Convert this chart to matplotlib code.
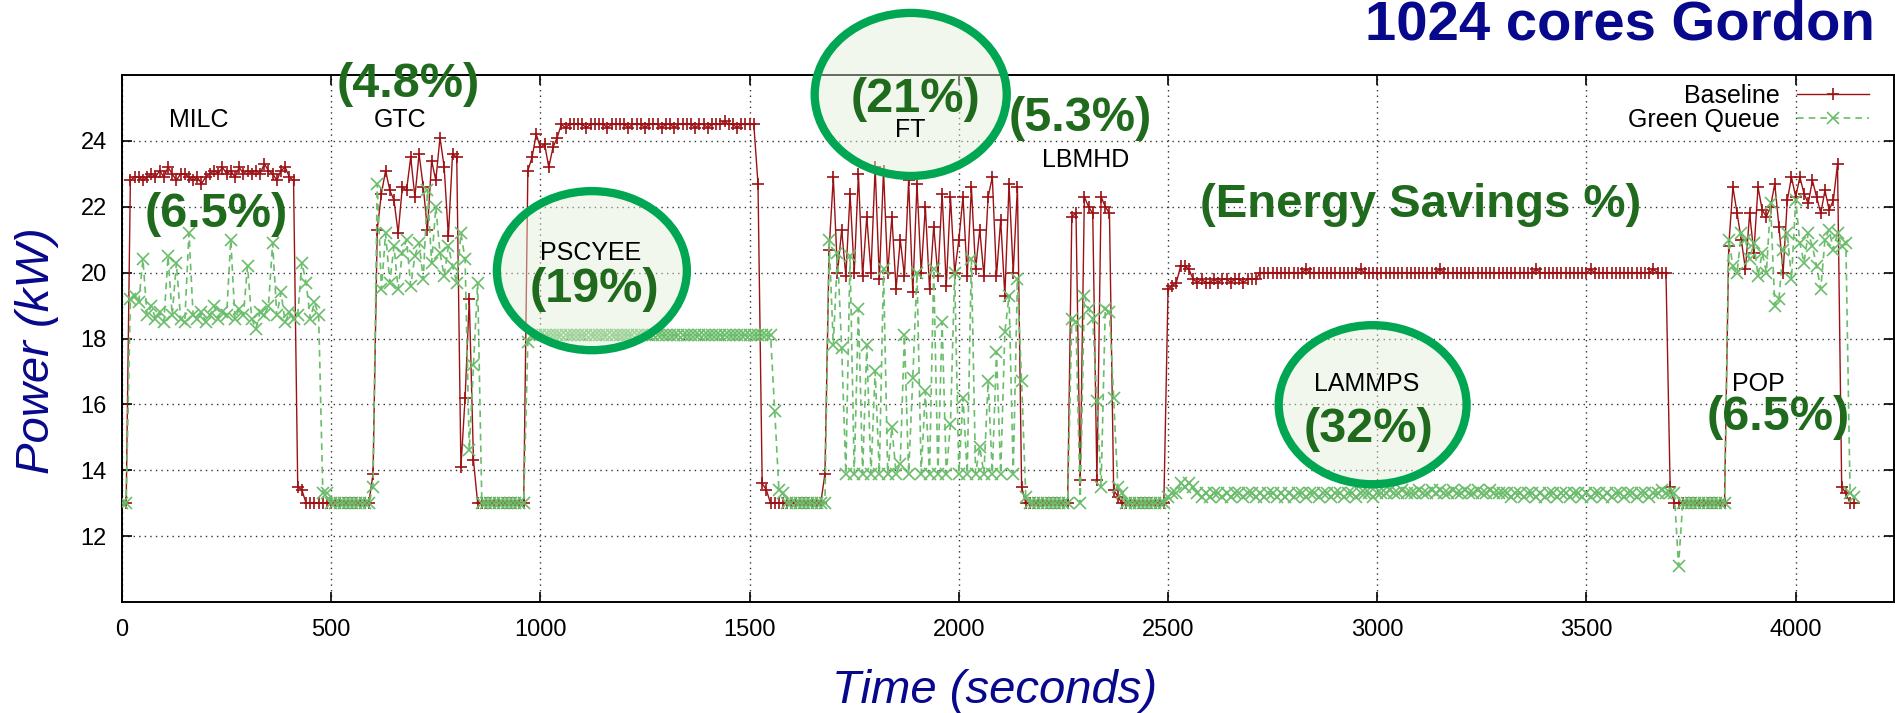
import numpy as np
import matplotlib
matplotlib.use("Agg")
import matplotlib.pyplot as plt
from matplotlib.patches import Ellipse
from matplotlib.lines import Line2D

plt.rcParams['font.family'] = ['Liberation Sans', 'DejaVu Sans']

# Sample times (s), one power reading every 10 s
time_s = np.arange(0, 4150, 10)

# Baseline power (kW), one row per 100 s
baseline_kw = [
    13.0, 13.0, 22.8, 22.9, 22.9, 22.8, 22.9, 23.0, 22.9, 23.1,   # 0
    22.9, 23.2, 23.0, 22.8, 23.0, 23.0, 22.9, 22.8, 22.9, 22.7,   # 100
    22.9, 23.0, 23.1, 23.0, 23.2, 23.0, 23.1, 22.9, 23.2, 23.0,   # 200
    23.1, 23.0, 23.1, 23.0, 23.3, 23.1, 23.0, 22.8, 23.1, 23.2,   # 300
    22.9, 22.8, 13.5, 13.4, 13.0, 13.0, 13.0, 13.0, 13.0, 13.0,   # 400
    13.0, 13.0, 13.0, 13.0, 13.0, 13.0, 13.0, 13.0, 13.0, 13.0,   # 500
    13.9, 21.3, 22.4, 23.1, 22.5, 22.2, 21.2, 22.6, 22.5, 23.5,   # 600
    22.3, 23.6, 22.6, 21.3, 23.4, 22.8, 24.1, 23.2, 21.1, 23.6,   # 700
    23.5, 14.1, 16.2, 19.2, 14.3, 13.0, 13.0, 13.0, 13.0, 13.0,   # 800
    13.0, 13.0, 13.0, 13.0, 13.0, 13.0, 13.0, 23.1, 23.5, 24.2,   # 900
    23.8, 23.9, 23.2, 23.8, 24.1, 24.5, 24.4, 24.5, 24.5, 24.5,   # 1000
    24.5, 24.4, 24.5, 24.5, 24.5, 24.5, 24.4, 24.5, 24.5, 24.5,   # 1100
    24.5, 24.4, 24.5, 24.5, 24.5, 24.4, 24.5, 24.5, 24.5, 24.4,   # 1200
    24.5, 24.5, 24.4, 24.5, 24.5, 24.5, 24.5, 24.4, 24.5, 24.5,   # 1300
    24.4, 24.5, 24.5, 24.5, 24.6, 24.5, 24.5, 24.4, 24.5, 24.5,   # 1400
    24.5, 24.5, 22.7, 13.6, 13.4, 13.0, 13.0, 13.0, 13.0, 13.0,   # 1500
    13.0, 13.0, 13.0, 13.0, 13.0, 13.0, 13.0, 13.0, 13.9, 20.7,   # 1600
    22.9, 20.0, 21.3, 19.9, 22.4, 20.0, 23.0, 19.9, 21.7, 20.0,   # 1700
    23.2, 19.8, 23.1, 20.0, 21.7, 19.5, 21.0, 19.9, 22.8, 19.4,   # 1800
    22.7, 20.0, 22.0, 19.5, 21.4, 19.9, 22.4, 19.6, 22.3, 20.0,   # 1900
    21.0, 22.3, 19.9, 22.6, 20.1, 21.3, 19.9, 22.3, 22.9, 19.9,   # 2000
    21.6, 19.3, 22.7, 20.0, 22.6, 13.5, 13.0, 13.0, 13.0, 13.0,   # 2100
    13.0, 13.0, 13.0, 13.0, 13.0, 13.0, 13.0, 21.7, 21.8, 13.7,   # 2200
    22.3, 22.0, 21.8, 13.7, 22.3, 22.0, 21.8, 13.4, 13.2, 13.0,   # 2300
    13.0, 13.0, 13.0, 13.0, 13.0, 13.0, 13.0, 13.0, 13.0, 13.0,   # 2400
    19.5, 19.6, 19.7, 20.2, 20.2, 20.1, 19.8, 19.7, 19.8, 19.7,   # 2500
    19.7, 19.8, 19.7, 19.8, 19.8, 19.7, 19.8, 19.8, 19.7, 19.8,   # 2600
    19.8, 19.8, 20.0, 20.0, 20.0, 20.0, 20.0, 20.0, 20.0, 20.0,   # 2700
    20.0, 20.0, 20.0, 20.1, 20.0, 20.0, 20.0, 20.0, 20.0, 20.0,   # 2800
    20.0, 20.0, 20.0, 20.0, 20.0, 20.0, 20.1, 20.0, 20.0, 20.0,   # 2900
    20.0, 20.0, 20.0, 20.0, 20.0, 20.0, 20.0, 20.0, 20.0, 20.0,   # 3000
    20.0, 20.0, 20.0, 20.0, 20.0, 20.1, 20.0, 20.0, 20.0, 20.0,   # 3100
    20.0, 20.0, 20.0, 20.0, 20.0, 20.0, 20.0, 20.0, 20.0, 20.0,   # 3200
    20.0, 20.0, 20.0, 20.0, 20.0, 20.0, 20.0, 20.0, 20.1, 20.0,   # 3300
    20.0, 20.0, 20.0, 20.0, 20.0, 20.0, 20.0, 20.0, 20.0, 20.0,   # 3400
    20.0, 20.1, 20.0, 20.0, 20.0, 20.0, 20.0, 20.0, 20.0, 20.0,   # 3500
    20.0, 20.0, 20.0, 20.0, 20.0, 20.0, 20.1, 20.0, 20.0, 20.0,   # 3600
    13.5, 13.0, 13.0, 13.0, 13.0, 13.0, 13.0, 13.0, 13.0, 13.0,   # 3700
    13.0, 13.0, 13.0, 13.0, 20.8, 22.6, 21.8, 21.0, 20.1, 21.8,   # 3800
    20.6, 22.6, 21.9, 21.7, 22.0, 22.7, 21.4, 20.0, 22.2, 22.9,   # 3900
    22.3, 22.9, 22.4, 22.1, 22.8, 22.3, 21.8, 22.5, 21.9, 22.2,   # 4000
    23.3, 13.5, 13.3, 13.0, 13.0,                                 # 4100
]

# Green Queue power (kW), one row per 100 s
green_queue_kw = [
    13.0, 13.0, 19.2, 19.3, 19.1, 20.4, 18.7, 19.0, 18.6, 18.8,   # 0
    18.5, 20.5, 18.7, 20.3, 18.6, 18.5, 21.2, 18.7, 18.6, 18.8,   # 100
    18.5, 18.7, 19.0, 18.6, 18.8, 18.7, 21.0, 18.6, 18.9, 18.7,   # 200
    20.2, 18.6, 18.3, 18.8, 18.7, 19.0, 20.9, 18.7, 19.4, 18.5,   # 300
    18.8, 18.6, 18.7, 20.3, 19.7, 18.6, 19.1, 18.7, 13.3, 13.3,   # 400
    13.0, 13.0, 13.0, 13.0, 13.0, 13.0, 13.0, 13.0, 13.0, 13.0,   # 500
    13.5, 22.7, 19.5, 21.2, 19.7, 20.8, 19.5, 20.6, 21.0, 19.6,   # 600
    20.5, 20.9, 19.8, 22.5, 20.3, 22.0, 20.6, 19.9, 20.8, 20.2,   # 700
    19.7, 21.2, 20.4, 14.6, 17.2, 19.7, 13.0, 13.0, 13.0, 13.0,   # 800
    13.0, 13.0, 13.0, 13.0, 13.0, 13.0, 13.0, 17.9, 18.1, 18.1,   # 900
    18.1, 18.1, 18.1, 18.1, 18.1, 18.1, 18.1, 18.1, 18.1, 18.1,   # 1000
    18.1, 18.1, 18.1, 18.1, 18.1, 18.1, 18.1, 18.1, 18.1, 18.1,   # 1100
    18.1, 18.1, 18.1, 18.1, 18.1, 18.1, 18.1, 18.1, 18.1, 18.1,   # 1200
    18.1, 18.1, 18.1, 18.1, 18.1, 18.1, 18.1, 18.1, 18.1, 18.1,   # 1300
    18.1, 18.1, 18.1, 18.1, 18.1, 18.1, 18.1, 18.1, 18.1, 18.1,   # 1400
    18.1, 18.1, 18.1, 18.1, 18.1, 18.1, 15.8, 13.4, 13.3, 13.0,   # 1500
    13.0, 13.0, 13.0, 13.0, 13.0, 13.0, 13.0, 13.0, 13.0, 21.0,   # 1600
    17.8, 20.6, 17.7, 13.9, 20.5, 13.9, 18.9, 13.9, 17.8, 13.9,   # 1700
    17.0, 13.9, 20.1, 13.9, 15.3, 13.9, 14.2, 18.1, 13.9, 16.8,   # 1800
    20.0, 13.9, 16.4, 13.9, 20.1, 13.9, 18.5, 13.9, 15.4, 20.0,   # 1900
    13.9, 16.2, 13.9, 20.4, 13.9, 14.7, 13.9, 16.7, 13.9, 17.6,   # 2000
    13.9, 18.2, 19.3, 13.9, 19.8, 16.7, 13.2, 13.0, 13.0, 13.0,   # 2100
    13.0, 13.0, 13.0, 13.0, 13.0, 13.0, 13.0, 18.6, 18.5, 13.0,   # 2200
    19.3, 18.9, 18.6, 16.1, 13.5, 18.9, 18.8, 16.2, 13.5, 13.3,   # 2300
    13.0, 13.0, 13.0, 13.0, 13.0, 13.0, 13.0, 13.0, 13.0, 13.0,   # 2400
    13.2, 13.3, 13.3, 13.6, 13.5, 13.6, 13.5, 13.3, 13.2, 13.3,   # 2500
    13.2, 13.3, 13.3, 13.2, 13.3, 13.2, 13.3, 13.3, 13.2, 13.3,   # 2600
    13.3, 13.2, 13.3, 13.2, 13.3, 13.3, 13.2, 13.3, 13.2, 13.3,   # 2700
    13.2, 13.3, 13.3, 13.2, 13.3, 13.3, 13.2, 13.3, 13.3, 13.2,   # 2800
    13.3, 13.3, 13.2, 13.3, 13.3, 13.2, 13.3, 13.3, 13.3, 13.2,   # 2900
    13.3, 13.3, 13.3, 13.4, 13.3, 13.3, 13.4, 13.3, 13.3, 13.3,   # 3000
    13.4, 13.3, 13.3, 13.4, 13.3, 13.4, 13.3, 13.3, 13.4, 13.3,   # 3100
    13.3, 13.4, 13.3, 13.3, 13.4, 13.3, 13.3, 13.4, 13.3, 13.3,   # 3200
    13.3, 13.3, 13.2, 13.3, 13.3, 13.2, 13.3, 13.3, 13.2, 13.3,   # 3300
    13.2, 13.3, 13.3, 13.2, 13.3, 13.3, 13.2, 13.3, 13.3, 13.2,   # 3400
    13.3, 13.2, 13.3, 13.3, 13.2, 13.3, 13.2, 13.3, 13.3, 13.2,   # 3500
    13.3, 13.3, 13.2, 13.3, 13.3, 13.2, 13.3, 13.3, 13.4, 13.3,   # 3600
    13.3, 13.3, 11.1, 13.0, 13.0, 13.0, 13.0, 13.0, 13.0, 13.0,   # 3700
    13.0, 13.0, 13.0, 13.0, 21.0, 20.2, 20.0, 21.2, 21.0, 20.4,   # 3800
    20.9, 19.9, 20.6, 20.0, 22.1, 19.0, 19.2, 20.7, 21.2, 19.8,   # 3900
    22.2, 20.9, 20.3, 21.2, 20.8, 20.2, 19.5, 21.0, 21.3, 20.7,   # 4000
    21.2, 20.8, 20.9, 13.3, 13.2,                                 # 4100
]

series_labels = ["Baseline", "Green Queue"]
x_ticks = [0, 500, 1000, 1500, 2000, 2500, 3000, 3500, 4000]
y_ticks = [12, 14, 16, 18, 20, 22, 24]

# Benchmark names and their energy savings
bench_names = ["MILC", "GTC", "PSCYEE", "FT", "LBMHD", "LAMMPS", "POP"]
bench_name_pos = [(184, 24.62), (664, 24.62), (1120, 20.61), (1885, 24.32),
                  (2303, 23.43), (2974, 16.63), (3911, 16.63)]
savings_text = ["(6.5%)", "(4.8%)", "(19%)", "(21%)", "(5.3%)", "(32%)", "(6.5%)"]
savings_pos = [(225, 21.76), (683, 25.71), (1130, 19.48), (1897, 25.26),
               (2289, 24.68), (2979, 15.23), (3959, 15.59)]

# Highlight rings: (centre time, centre kW, width s, height kW)
rings = [(1123, 20.06, 454, 4.83), (1885, 25.41, 459, 4.95), (2989, 15.99, 449, 4.83)]

RED = "#9c1114"
GREEN = "#6abd6a"
DARK_GREEN = "#206a1d"
RING = "#00a651"
NAVY = "#08088c"

fig = plt.figure(figsize=(18.95, 7.13), dpi=100)
W, H = 1895.0, 713.0
ax = fig.add_axes([122 / W, 1 - 602 / H, (1894 - 122) / W, (602 - 75) / H])

ax.plot(time_s, baseline_kw, color=RED, lw=1.0, marker="+", ms=9, mew=1.2,
        zorder=2, label=series_labels[0])
ax.plot(time_s, green_queue_kw, color=GREEN, lw=1.2, ls=(0, (4, 3)), marker="x",
        ms=8, mew=1.2, zorder=3, label=series_labels[1])

ax.set_xlim(0, 4235)
ax.set_ylim(10, 26)
ax.set_xticks(x_ticks)
ax.set_yticks(y_ticks)
ax.grid(True, linestyle=(0, (1, 3)), color="#333333", linewidth=1.0)
ax.set_axisbelow(True)
ax.tick_params(direction="in", length=7, width=1.2, top=True, right=True,
               labelsize=17, colors="black")
ax.tick_params(axis="y", pad=11)
ax.tick_params(axis="x", pad=12)
for sp in ax.spines.values():
    sp.set_linewidth(1.4)

fig.text(37 / W, 1 - 351 / H, "Power (kW)", rotation=90, ha="center", va="center",
         fontsize=34, style="italic", color=NAVY)
fig.text(995 / W, 1 - 691 / H, "Time (seconds)", ha="center", va="center",
         fontsize=34, style="italic", color=NAVY)
fig.text(1875 / W, 1 - 39 / H, "1024 cores Gordon", ha="right", va="baseline",
         fontsize=40.5, fontweight="bold", color=NAVY)

for (cx, cy, w, h) in rings:
    ax.add_patch(Ellipse((cx, cy), w, h, facecolor="#e2efd5", alpha=0.45,
                         edgecolor="none", zorder=5, clip_on=False))
    ax.add_patch(Ellipse((cx, cy), w, h, facecolor="none", edgecolor=RING,
                         lw=6, zorder=5.5, clip_on=False))

for name, (tx, ty) in zip(bench_names, bench_name_pos):
    ax.text(tx, ty, name, ha="center", va="center", fontsize=18, color="black", zorder=6)
for s, (tx, ty) in zip(savings_text, savings_pos):
    ax.text(tx, ty, s, ha="center", va="center", fontsize=35, fontweight="bold",
            color=DARK_GREEN, zorder=6)
ax.text(3103, 22.04, "(Energy Savings %)", ha="center", va="center", fontsize=34,
        fontweight="bold", color=DARK_GREEN, zorder=6)

handles = [Line2D([], [], color=RED, lw=1.0, marker="+", ms=9, mew=1.2),
           Line2D([], [], color=GREEN, lw=1.2, ls=(0, (4, 3)), marker="x", ms=8, mew=1.2)]
ax.legend(handles, series_labels, loc="upper right", bbox_to_anchor=(1869 / W, 1 - 84 / H),
          bbox_transform=fig.transFigure, frameon=False, markerfirst=False,
          handlelength=2.9, handletextpad=0.65, labelspacing=0.0, borderpad=0,
          borderaxespad=0, fontsize=18)

fig.savefig("out.png", dpi=100)
